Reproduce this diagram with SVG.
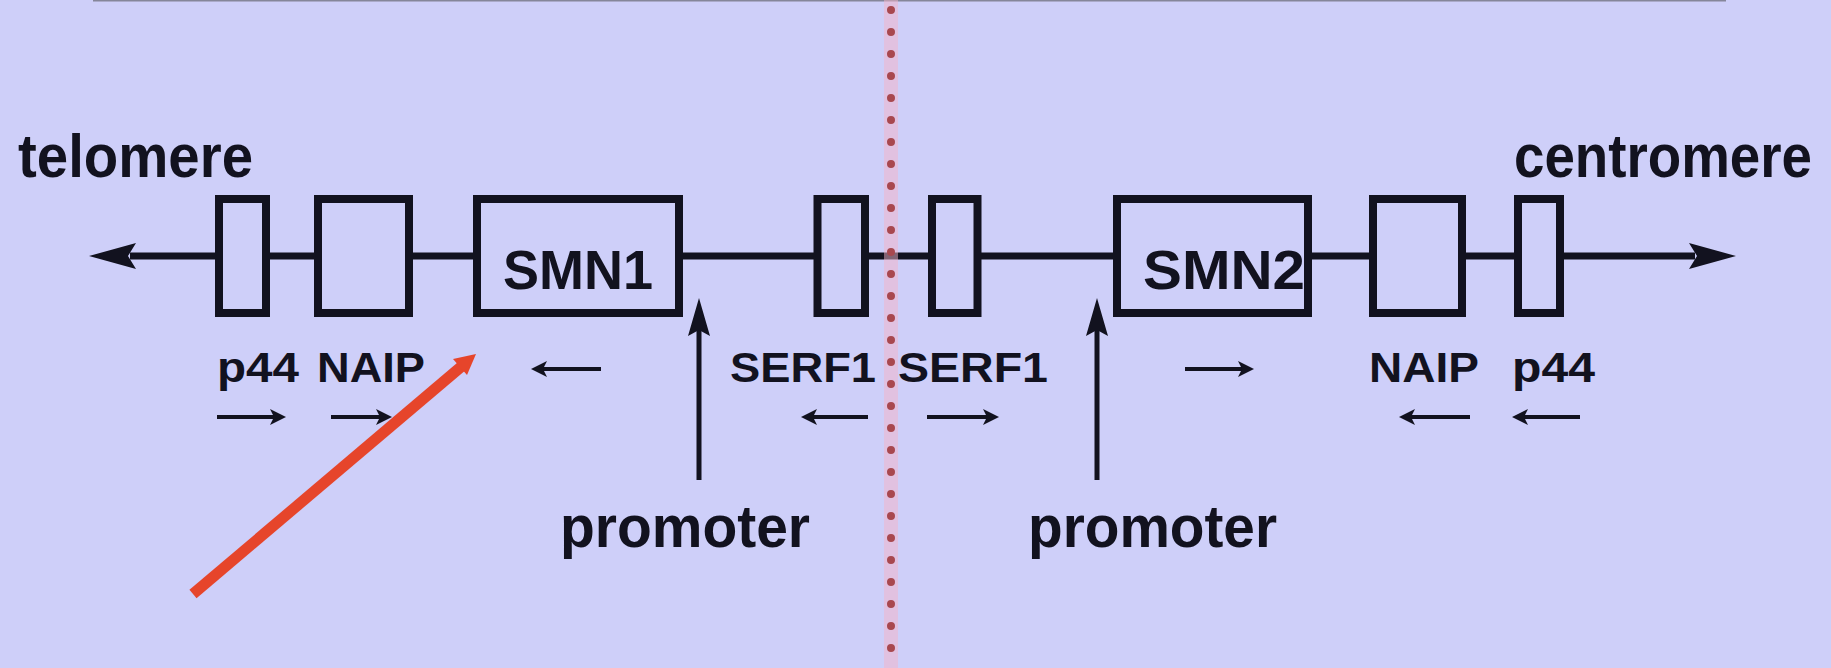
<svg xmlns="http://www.w3.org/2000/svg" width="1831" height="668" viewBox="0 0 1831 668">
  <defs>
    <style>
      .bg { fill: #cecff9; }
      .box { fill: #cecff9; stroke: #12121f; stroke-width: 8; }
      .bb { stroke: #12121f; stroke-width: 7; fill: none; }
      .lbl { font-family: "Liberation Sans", Arial, sans-serif; font-weight: bold; fill: #12121f; }
      .big { font-size: 62px; }
      .prm { font-size: 59px; }
      .gene { font-size: 56px; }
      .small { font-size: 42px; }
      .dir { stroke: #12121f; stroke-width: 4; fill: none; }
      .prom { stroke: #12121f; stroke-width: 5; fill: none; }
      .head { fill: #12121f; }
    </style>
  </defs>
  <rect class="bg" x="0" y="0" width="1831" height="668"/>
  <line x1="93" y1="0.5" x2="1726" y2="0.5" stroke="#85869a" stroke-width="2"/>

  <g id="connectors">
    <!-- backbone segments -->
    <line class="bb" x1="130" y1="256" x2="219" y2="256"/>
    <polygon class="head" points="89,256 136,243 128,256 136,269"/>
    <line class="bb" x1="266" y1="256" x2="318" y2="256"/>
    <line class="bb" x1="409" y1="256" x2="477" y2="256"/>
    <line class="bb" x1="679" y1="256" x2="817" y2="256"/>
    <line class="bb" x1="865" y1="256" x2="932" y2="256"/>
    <line class="bb" x1="977" y1="256" x2="1117" y2="256"/>
    <line class="bb" x1="1308" y1="256" x2="1373" y2="256"/>
    <line class="bb" x1="1462" y1="256" x2="1518" y2="256"/>
    <line class="bb" x1="1560" y1="256" x2="1695" y2="256"/>
    <polygon class="head" points="1736,256 1689,243 1697,256 1689,269"/>

    <!-- promoter arrows -->
    <line class="prom" x1="699" y1="480" x2="699" y2="320"/>
    <polygon class="head" points="699,298 710,336 699,330 688,336"/>
    <line class="prom" x1="1097" y1="480" x2="1097" y2="320"/>
    <polygon class="head" points="1097,298 1108,336 1097,330 1086,336"/>

    <!-- gene direction arrows -->
    <line class="dir" x1="217" y1="417" x2="275" y2="417"/>
    <polygon class="head" points="286,417 270,409 274,417 270,425"/>
    <line class="dir" x1="331" y1="417" x2="381" y2="417"/>
    <polygon class="head" points="392,417 376,409 380,417 376,425"/>
    <line class="dir" x1="601" y1="369" x2="542" y2="369"/>
    <polygon class="head" points="531,369 547,361 543,369 547,377"/>
    <line class="dir" x1="868" y1="417" x2="812" y2="417"/>
    <polygon class="head" points="801,417 817,409 813,417 817,425"/>
    <line class="dir" x1="927" y1="417" x2="988" y2="417"/>
    <polygon class="head" points="999,417 983,409 987,417 983,425"/>
    <line class="dir" x1="1185" y1="369" x2="1243" y2="369"/>
    <polygon class="head" points="1254,369 1238,361 1242,369 1238,377"/>
    <line class="dir" x1="1470" y1="417" x2="1410" y2="417"/>
    <polygon class="head" points="1399,417 1415,409 1411,417 1415,425"/>
    <line class="dir" x1="1580" y1="417" x2="1523" y2="417"/>
    <polygon class="head" points="1512,417 1528,409 1524,417 1528,425"/>
  </g>

  <g id="p44-left"><rect class="box" x="219" y="199" width="47" height="114"/></g>
  <g id="naip-left"><rect class="box" x="318" y="199" width="91" height="114"/></g>
  <g id="smn1">
    <rect class="box" x="477" y="199" width="202" height="114"/>
    <text class="lbl gene" x="503" y="289" textLength="150" lengthAdjust="spacingAndGlyphs">SMN1</text>
  </g>
  <g id="serf1-left"><rect class="box" x="817.5" y="199" width="47.5" height="114"/></g>
  <g id="serf1-right"><rect class="box" x="932" y="199" width="45.5" height="114"/></g>
  <g id="smn2">
    <rect class="box" x="1117" y="199" width="191" height="114"/>
    <text class="lbl gene" x="1143" y="289" textLength="162" lengthAdjust="spacingAndGlyphs">SMN2</text>
  </g>
  <g id="naip-right"><rect class="box" x="1373" y="199" width="89" height="114"/></g>
  <g id="p44-right"><rect class="box" x="1518" y="199" width="42" height="114"/></g>

  <g id="labels">
    <text class="lbl big" x="18" y="177" textLength="235" lengthAdjust="spacingAndGlyphs">telomere</text>
    <text class="lbl big" x="1514" y="177" textLength="298" lengthAdjust="spacingAndGlyphs">centromere</text>
    <text class="lbl small" x="217" y="382" textLength="82" lengthAdjust="spacingAndGlyphs">p44</text>
    <text class="lbl small" x="317" y="382" textLength="108" lengthAdjust="spacingAndGlyphs">NAIP</text>
    <text class="lbl small" x="730" y="382" textLength="146" lengthAdjust="spacingAndGlyphs">SERF1</text>
    <text class="lbl small" x="898" y="382" textLength="150" lengthAdjust="spacingAndGlyphs">SERF1</text>
    <text class="lbl small" x="1369" y="382" textLength="110" lengthAdjust="spacingAndGlyphs">NAIP</text>
    <text class="lbl small" x="1512" y="382" textLength="83" lengthAdjust="spacingAndGlyphs">p44</text>
    <text class="lbl prm" x="560" y="547" textLength="250" lengthAdjust="spacingAndGlyphs">promoter</text>
    <text class="lbl prm" x="1028" y="547" textLength="249" lengthAdjust="spacingAndGlyphs">promoter</text>
  </g>

  <g id="divider">
    <line x1="891" y1="0" x2="891" y2="668" stroke="#f4b4c8" stroke-width="14" opacity="0.5"/>
    <line x1="891" y1="10" x2="891" y2="668" stroke="#a8484f" stroke-width="8" stroke-linecap="round" stroke-dasharray="0 22"/>
  </g>

  <g id="red-arrow">
    <line x1="193" y1="594" x2="462" y2="366" stroke="#e6452b" stroke-width="11" stroke-linecap="butt"/>
    <polygon points="476,354 453,359 467,375" fill="#e6452b"/>
  </g>
</svg>
